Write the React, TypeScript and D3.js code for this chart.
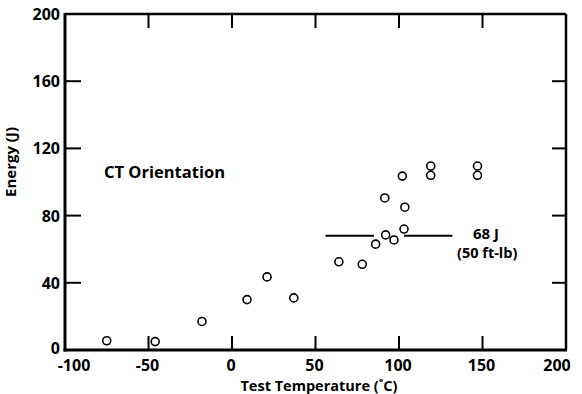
import React from "react";
import * as d3 from "d3";

const temps = [-75, -46, -18, 9, 21, 37, 64, 78, 86, 92, 97, 103, 91.5, 103.5, 102, 119, 119, 147, 147];
const energies = [5.5, 5, 17, 30, 43.5, 31, 52.5, 51, 63, 68.5, 65.5, 72, 90.5, 85, 103.5, 109.5, 104, 109.5, 104];
const xTicks = [-100, -50, 0, 50, 100, 150, 200];
const yTicks = [0, 40, 80, 120, 160, 200];
const innerXTicks = [-50, 0, 50, 100, 150];
const innerYTicks = [40, 80, 120, 160];
const refEnergy = 68;
const refSegments = [[56, 85], [103, 132]];

const W = 582, H = 394;
const L = 65, R = 566, T = 14, B = 350;
const FONT = "'Open Sans', 'DejaVu Sans', sans-serif";

export default function App() {
  const x = d3.scaleLinear().domain([-100, 200]).range([L, R]);
  const y = d3.scaleLinear().domain([0, 200]).range([B, T]);
  const tickLen = 14;
  return (
    <svg width={W} height={H} style={{ position: "absolute", left: 0, top: 0, background: "#fff" }}>
      <g fontFamily={FONT} fontWeight={700} fill="#000">
        {innerXTicks.map((t) => (
          <g key={"xt" + t} stroke="#000" strokeWidth={2}>
            <line x1={x(t)} x2={x(t)} y1={B} y2={B - tickLen} />
            <line x1={x(t)} x2={x(t)} y1={T} y2={T + tickLen} />
          </g>
        ))}
        {innerYTicks.map((t) => (
          <g key={"yt" + t} stroke="#000" strokeWidth={2}>
            <line x1={L} x2={L + 16} y1={y(t)} y2={y(t)} />
            <line x1={R} x2={R - 14} y1={y(t)} y2={y(t)} />
          </g>
        ))}
        <line x1={L} x2={R} y1={T} y2={T} stroke="#000" strokeWidth={2.5} />
        <line x1={R} x2={R} y1={T} y2={B} stroke="#000" strokeWidth={2.5} />
        <line x1={L} x2={L} y1={T - 1} y2={B + 1.5} stroke="#000" strokeWidth={3} />
        <line x1={L - 1.5} x2={R + 1} y1={B} y2={B} stroke="#000" strokeWidth={3} />
        {xTicks.map((t, i) => (
          <text key={"xl" + t} x={x(t) + (i === 0 ? 9 : i === xTicks.length - 1 ? -9 : -1)} y={371}
            textAnchor="middle" fontSize={16}>{t}</text>
        ))}
        {yTicks.map((t) => (
          <text key={"yl" + t} x={60} y={y(t) + (t === 0 ? 4 : 6)} textAnchor="end" fontSize={16}>{t}</text>
        ))}
        <text x={319} y={391} textAnchor="middle" fontSize={14.5}>Test Temperature (˚C)</text>
        <text transform={`translate(16,162) rotate(-90)`} textAnchor="middle" fontSize={15}>Energy (J)</text>
        {refSegments.map((s, i) => (
          <line key={"rs" + i} x1={x(s[0])} x2={x(s[1])} y1={y(refEnergy)} y2={y(refEnergy)} stroke="#000" strokeWidth={2} />
        ))}
        <text x={473} y={239} fontSize={15}>68 J</text>
        <text x={457} y={258} fontSize={14.5}>(50 ft-lb)</text>
        <text x={104} y={178} fontSize={16.5}>CT Orientation</text>
        {temps.map((t, i) => (
          <circle key={"p" + i} cx={x(t)} cy={y(energies[i])} r={4} fill="none" stroke="#000" strokeWidth={1.6} />
        ))}
      </g>
    </svg>
  );
}
